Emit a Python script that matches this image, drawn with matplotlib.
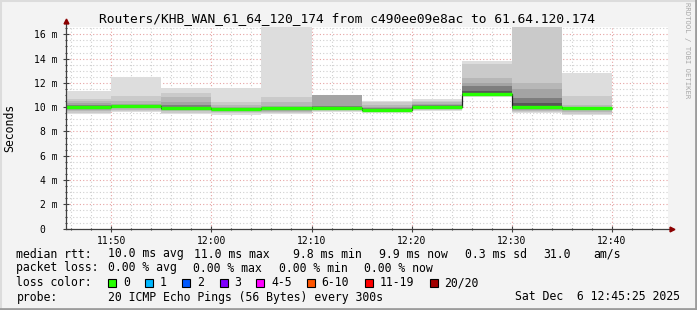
import matplotlib
matplotlib.use("Agg")
import matplotlib.pyplot as plt
from matplotlib.ticker import FixedLocator, FixedFormatter, MultipleLocator
from matplotlib.patches import Rectangle
from matplotlib.lines import Line2D

plt.rcParams['font.family'] = ['DejaVu Sans Mono']

# -------------------------
# Data (minutes after 11:50, ms)
# -------------------------
col_start = [-5, 0, 5, 10, 15, 20, 25, 30, 35, 40, 45]
col_width = 5
median_ms = [10.0, 10.08, 9.9, 9.85, 9.9, 9.97, 9.81, 10.03, 11.05, 10.0, 9.9]

# smoke bands, outer (lightest) to inner (darkest)
smoke_lo = [
    [9.45, 9.60, 9.45, 9.35, 9.45, 9.64, 9.50, 9.67, 10.86, 9.54, 9.34],
    [9.55, 9.70, 9.55, 9.50, 9.55, 9.70, 9.60, 9.75, 10.90, 9.60, 9.45],
    [9.65, 9.80, 9.65, 9.60, 9.62, 9.75, 9.65, 9.85, 10.95, 9.70, 9.60],
    [9.75, 9.90, 9.75, 9.70, 9.70, 9.80, 9.70, 9.90, 11.00, 9.80, 9.75],
    [9.85, 9.95, 9.80, 9.75, 9.74, 9.88, 9.75, 9.95, 11.02, 9.85, 9.82],
    [9.90, 10.00, 9.85, 9.78, 9.74, 9.92, 9.78, 9.98, 11.04, 9.87, 9.85],
]
smoke_hi = [
    [11.30, 12.50, 11.55, 11.55, 16.70, 11.00, 10.50, 10.69, 13.80, 16.70, 12.78],
    [10.70, 10.90, 11.20, 10.40, 10.86, 11.00, 10.45, 10.55, 13.53, 16.70, 10.91],
    [10.50, 10.50, 10.80, 10.20, 10.40, 11.00, 10.20, 10.45, 12.43, 12.00, 10.22],
    [10.35, 10.30, 10.40, 10.05, 10.10, 10.98, 10.00, 10.30, 12.00, 11.46, 10.05],
    [10.15, 10.15, 10.20, 9.95, 9.95, 10.08, 9.90, 10.15, 11.74, 10.78, 9.98],
    [10.05, 10.10, 9.95, 9.90, 9.80, 10.02, 9.85, 10.08, 11.32, 10.36, 9.94],
]
smoke_colors = ["#dddddd", "#cacaca", "#b7b7b7", "#a4a4a4", "#7e7e7e", "#585858"]

x_ticks = [0, 10, 20, 30, 40, 50]
x_labels = ["11:50", "12:00", "12:10", "12:20", "12:30", "12:40"]
y_ticks = [0, 2, 4, 6, 8, 10, 12, 14, 16]
y_labels = ["0  ", "2 m", "4 m", "6 m", "8 m", "10 m", "12 m", "14 m", "16 m"]

loss_names = ["0", "1", "2", "3", "4-5", "6-10", "11-19", "20/20"]
loss_colors = ["#26ff00", "#00b8ff", "#0059ff", "#7e00ff", "#ff00ff", "#ff5500", "#ff0000", "#a10000"]
loss_box_x = [108.4, 145.3, 182.2, 219.6, 256.4, 307.0, 365.3, 430.0]

W, H = 697, 310

# -------------------------
# Figure
# -------------------------
fig = plt.figure(figsize=(W / 100, H / 100), dpi=100, facecolor="#f3f3f3")
ax = fig.add_axes([66 / W, 81.3 / H, 602 / W, 201.7 / H])
ax.set_facecolor("white")

for lvl in range(len(smoke_colors)):
    heights = [h - l for h, l in zip(smoke_hi[lvl], smoke_lo[lvl])]
    ax.bar(col_start, heights, width=col_width, bottom=smoke_lo[lvl], align="edge",
           color=smoke_colors[lvl], linewidth=0, zorder=2)

edges = col_start + [col_start[-1] + col_width]
ax.stairs(median_ms, edges, baseline=None, color="#202020", lw=0.9, zorder=3)
ax.hlines(median_ms, col_start, [s + col_width for s in col_start],
          color=loss_colors[0], lw=2.4, zorder=4)

ax.set_xlim(-4.52, 55.6)
ax.set_ylim(0, 16.6)

ax.xaxis.set_major_locator(FixedLocator(x_ticks))
ax.xaxis.set_major_formatter(FixedFormatter(x_labels))
ax.xaxis.set_minor_locator(MultipleLocator(2))
ax.yaxis.set_major_locator(FixedLocator(y_ticks))
ax.yaxis.set_major_formatter(FixedFormatter(y_labels))
ax.yaxis.set_minor_locator(MultipleLocator(0.5))

ax.grid(True, which="minor", color="#cfcfcf", ls=(0, (1, 2)), lw=0.8, zorder=1)
ax.grid(True, which="major", color="#e6a3a3", ls=(0, (1, 2)), lw=0.8, zorder=1)

ax.tick_params(which="both", direction="inout", color="#404040", width=0.8,
               labelsize=7, labelcolor="black")
ax.tick_params(which="major", length=4)
ax.tick_params(which="minor", length=2)
ax.tick_params(axis="y", pad=4)
ax.tick_params(axis="x", pad=3)

for s in ["top", "right", "left", "bottom"]:
    ax.spines[s].set_visible(False)
ax.plot([0, 1.007], [0, 0], transform=ax.transAxes, color="#404040", lw=0.9, clip_on=False, zorder=6)
ax.plot([0, 0], [0, 1.03], transform=ax.transAxes, color="#404040", lw=0.9, clip_on=False, zorder=6)
ax.plot([1.007], [0], ">", transform=ax.transAxes, color="#8b0000", ms=3.5, clip_on=False, zorder=7)
ax.plot([0], [1.03], "^", transform=ax.transAxes, color="#8b0000", ms=3.5, clip_on=False, zorder=7)

ax.set_ylabel("Seconds", fontsize=8.3)
ax.yaxis.set_label_coords(-50 / 602, 0.5)

# -------------------------
# Texts
# -------------------------
def tx(x, y, s, **kw):
    fig.text(x / W, 1 - y / H, s, va="center", fontsize=8.3, **kw)

tx(347, 19, "Routers/KHB_WAN_61_64_120_174 from c490ee09e8ac to 61.64.120.174",
   ha="center")
fig.texts[-1].set_fontsize(9.3)

fig.text(687 / W, 1 - 50 / H, "RRDTOOL / TOBI OETIKER", rotation=270, ha="center",
         va="center", fontsize=5.2, color="#a8a8a8")

row_y = [254, 268, 283, 297]
tx(16.4, row_y[0], "median rtt:")
for x, s in zip([107.6, 194, 293, 378.7, 465, 543, 593],
                ["10.0 ms avg", "11.0 ms max", "9.8 ms min", "9.9 ms now",
                 "0.3 ms sd", "31.0", "am/s"]):
    tx(x, row_y[0], s)

tx(16.4, row_y[1], "packet loss:")
for x, s in zip([107.6, 193, 279, 364.4],
                ["0.00 % avg", "0.00 % max", "0.00 % min", "0.00 % now"]):
    tx(x, row_y[1], s)

tx(16.4, row_y[2], "loss color:")
for bx, name, col in zip(loss_box_x, loss_names, loss_colors):
    fig.patches.append(Rectangle((bx / W, 1 - (row_y[2] + 4) / H), 8 / W, 8 / H,
                                 transform=fig.transFigure, facecolor=col,
                                 edgecolor="black", lw=0.8))
    tx(bx + 14.6, row_y[2], name)

tx(16.4, row_y[3], "probe:")
tx(107.6, row_y[3], "20 ICMP Echo Pings (56 Bytes) every 300s")
tx(680, row_y[3], "Sat Dec  6 12:45:25 2025", ha="right")

# 3D frame
fig.add_artist(Line2D([0, 1], [1 - 1 / H, 1 - 1 / H], color="#dcdcdc", lw=1.5))
fig.add_artist(Line2D([1 / W, 1 / W], [0, 1], color="#dcdcdc", lw=1.5))
fig.add_artist(Line2D([0, 1], [1 / H, 1 / H], color="#9c9c9c", lw=2))
fig.add_artist(Line2D([1 - 1 / W, 1 - 1 / W], [0, 1], color="#9c9c9c", lw=2))

fig.savefig("out.png", dpi=100, facecolor=fig.get_facecolor())
